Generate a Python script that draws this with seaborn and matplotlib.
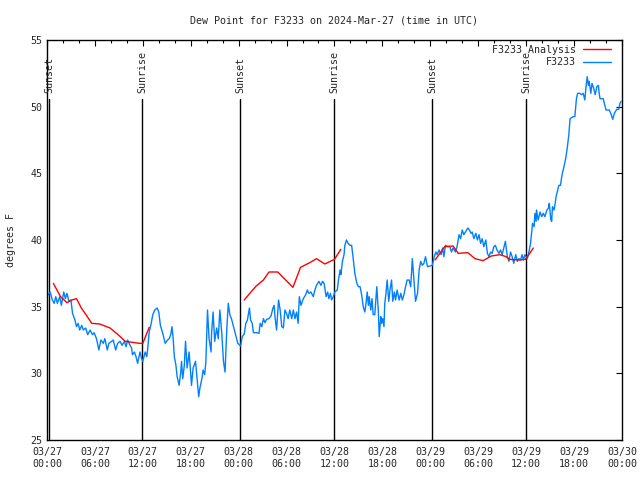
import pandas as pd
import numpy as np
import seaborn as sns
import matplotlib
matplotlib.use('Agg')
import matplotlib.pyplot as plt
import matplotlib.dates as mdates

start = pd.Timestamp('2024-03-27 00:00')

# F3233 observations: hours after 03/27 00:00 UTC, dew point (F)
obs_hours = [0.16, 0.4, 0.67, 0.9, 1.1, 1.3, 1.6, 1.8, 2.1, 2.3, 2.5, 2.75, 3.0, 3.2, 3.5, 3.7, 3.9, 4.1,
             4.35, 4.55, 4.85, 5.1, 5.4, 5.7, 5.9, 6.2, 6.5, 6.75, 7.05, 7.25, 7.55, 7.75, 8.1, 8.3, 8.6,
             8.85, 9.15, 9.4, 9.7, 9.9, 10.1, 10.4, 10.6, 10.7, 10.95, 11.15, 11.35, 11.65, 11.85, 12.0,
             12.3, 12.5, 12.6, 12.8, 13.0, 13.25, 13.5, 13.8, 14.0, 14.2, 14.5, 14.8, 15.1, 15.3, 15.5,
             15.65, 15.8, 15.95, 16.15, 16.3, 16.55, 16.75, 16.85, 17.0, 17.2, 17.35, 17.55, 17.8, 18.0,
             18.1, 18.3, 18.6, 18.8, 19.0, 19.15, 19.4, 19.55, 19.75, 19.9, 20.1, 20.3, 20.55, 20.6, 20.8,
             21.0, 21.25, 21.45, 21.65, 21.9, 22.1, 22.3, 22.5, 22.7, 22.9, 23.1, 23.4, 23.9, 24.25, 24.45,
             24.7, 24.9, 25.1, 25.35, 25.5, 25.7, 25.85, 26.25, 26.55, 26.7, 26.9, 27.1, 27.3, 27.5, 27.8,
             28.05, 28.3, 28.45, 28.55, 28.75, 29.0, 29.2, 29.4, 29.6, 29.8, 30.0, 30.2, 30.4, 30.65, 30.85,
             31.05, 31.25, 31.45, 31.6, 31.8, 32.1, 32.4, 32.6, 32.8, 33.05, 33.35, 33.55, 33.75, 34.05,
             34.3, 34.5, 34.7, 34.95, 35.15, 35.3, 35.5, 35.65, 35.85, 36.05, 36.35, 36.5, 36.7, 36.8,
             37.0, 37.2, 37.3, 37.5, 37.7, 37.95, 38.15, 38.35, 38.55, 38.8, 39.0, 39.2, 39.4, 39.6, 39.8,
             39.95, 40.1, 40.25, 40.35, 40.55, 40.7, 40.85, 41.05, 41.3, 41.5, 41.6, 41.8, 41.9, 42.05,
             42.2, 42.3, 42.45, 42.6, 42.8, 42.95, 43.15, 43.3, 43.5, 43.65, 43.85, 44.1, 44.3, 44.5, 44.7,
             44.9, 45.1, 45.35, 45.55, 45.75, 45.95, 46.15, 46.4, 46.6, 46.8, 47.0, 47.2, 47.4, 47.65,
             47.95, 48.25, 48.5, 48.7, 48.85, 49.1, 49.35, 49.55, 49.7, 49.9, 50.2, 50.45, 50.65, 50.85,
             51.15, 51.35, 51.6, 51.8, 52.0, 52.2, 52.4, 52.7, 52.9, 53.1, 53.25, 53.45, 53.7, 53.9, 54.1,
             54.3, 54.5, 54.7, 54.95, 55.15, 55.35, 55.55, 55.75, 55.95, 56.15, 56.35, 56.6, 56.8, 57.0,
             57.2, 57.4, 57.65, 57.85, 58.05, 58.25, 58.45, 58.7, 58.9, 59.1, 59.3, 59.5, 59.65, 59.85,
             60.15, 60.4, 60.55, 60.7, 60.8, 61.0, 61.1, 61.25, 61.3, 61.5, 61.75, 61.95, 62.15, 62.35,
             62.6, 62.8, 62.9, 63.1, 63.2, 63.3, 63.5, 63.6, 63.75, 63.9, 64.1, 64.3, 64.5, 64.7, 64.95,
             65.15, 65.35, 65.5, 65.9, 66.1, 66.3, 66.45, 66.7, 66.95, 67.15, 67.35, 67.5, 67.65, 67.8,
             67.9, 68.1, 68.25, 68.45, 68.65, 68.85, 69.05, 69.15, 69.25, 69.65, 69.85, 70.0, 70.4, 70.6,
             70.85, 71.05, 71.35, 71.6, 71.75, 71.9]
obs_vals = [35.9, 36.1, 35.5, 35.25, 35.75, 35.25, 35.75, 35.1, 36.1, 35.6, 36.0, 35.4, 35.5, 34.5, 34.0, 33.5, 33.75, 33.25,
            33.6, 33.25, 33.4, 32.9, 33.25, 32.9, 33.05, 32.6, 31.75, 32.5, 32.25, 32.6, 31.75, 32.25, 32.4, 32.5, 31.75,
            32.25, 32.4, 32.1, 32.4, 32.0, 32.5, 32.1, 31.9, 31.4, 31.6, 31.25, 30.75, 31.6, 31.1, 30.9,
            31.6, 31.25, 31.75, 33.1, 33.6, 34.4, 34.75, 34.9, 34.6, 33.6, 33.0, 32.25, 32.5, 32.6, 32.9,
            33.5, 32.6, 31.25, 30.6, 29.75, 29.1, 30.1, 30.9, 29.6, 30.6, 32.4, 30.4, 31.6, 29.9,
            29.1, 30.4, 30.9, 29.6, 28.25, 28.9, 29.6, 30.25, 29.9, 30.9, 34.75, 32.6, 31.6, 32.9, 34.6,
            32.4, 33.4, 32.6, 34.75, 32.9, 30.9, 30.1, 33.1, 35.25, 34.4, 34.1, 33.4, 32.25, 32.05, 32.75,
            32.95, 33.75, 34.0, 34.9, 34.0, 33.75, 33.05, 33.05, 33.0, 33.75, 33.5, 34.1, 33.8, 34.05, 34.1,
            34.3, 34.9, 35.1, 34.25, 33.25, 35.5, 34.75, 33.5, 33.4, 34.75, 34.5, 34.1, 34.75, 34.1, 34.75,
            34.1, 34.6, 33.75, 35.75, 35.1, 35.6, 35.9, 36.25, 36.0, 36.1, 35.75, 36.25, 36.6, 36.9,
            36.6, 36.9, 36.75, 35.75, 36.1, 35.6, 36.0, 35.5, 35.75, 36.1, 36.25, 37.0, 37.75, 37.4,
            38.4, 38.9, 39.6, 40.0, 39.75, 39.6, 39.6, 38.6, 37.5, 36.75, 36.5, 36.5, 35.9, 35.0, 34.6,
            35.25, 36.1, 35.1, 35.75, 34.75, 35.6, 34.4, 34.4, 36.5, 34.6, 32.75, 34.25, 33.75, 34.1,
            33.5, 35.25, 36.0, 37.0, 35.4, 36.25, 37.0, 35.4, 36.1, 35.5, 36.25, 35.5, 36.0, 35.5, 35.9,
            36.5, 37.0, 37.0, 36.5, 38.6, 37.0, 35.4, 36.0, 37.75, 38.4, 38.1, 38.25, 38.75, 38.0,
            38.05, 38.1, 38.75, 39.1, 38.9, 39.25, 38.9, 39.4, 38.75, 39.6, 39.5, 39.5, 39.1, 39.4,
            39.1, 39.5, 40.4, 40.1, 40.75, 40.4, 40.6, 40.9, 40.75, 40.5, 40.6, 40.1, 40.5, 40.0, 40.4,
            39.75, 40.1, 39.5, 40.0, 39.0, 38.75, 39.1, 39.0, 39.5, 39.6, 39.25, 39.0, 39.25, 38.9,
            39.4, 39.9, 38.75, 38.4, 39.1, 38.75, 38.25, 38.9, 38.4, 38.6, 38.5, 38.9, 38.5, 38.9,
            38.6, 39.25, 39.75, 40.6, 41.25, 41.0, 42.0, 41.4, 42.25, 41.5, 42.1, 41.75, 42.0, 41.75,
            42.25, 42.4, 42.75, 41.5, 41.4, 42.5, 42.25, 42.6, 43.25, 43.6, 44.1, 44.1, 44.9, 45.4, 46.1,
            46.9, 47.9, 49.1, 49.25, 49.25, 50.6, 51.0, 51.0, 50.9, 51.0, 50.5, 51.5, 52.25, 51.6,
            51.9, 51.0, 51.75, 51.4, 50.9, 51.5, 51.6, 51.0, 50.6, 50.6, 50.1, 49.75, 49.75, 49.5,
            49.05, 49.5, 49.8, 49.8, 50.25, 50.4]

# F3233 Analysis: three separate runs
ana_hours_1 = [0.8, 1.7, 2.5, 3.1, 3.7, 4.3, 5.0, 5.6, 6.6, 7.9, 8.9, 9.8, 11.6, 12.0, 12.8]
ana_vals_1 = [36.75, 35.75, 35.3, 35.5, 35.6, 34.9, 34.3, 33.75, 33.7, 33.4, 32.9, 32.4, 32.25, 32.25, 33.45]
ana_hours_2 = [24.7, 25.4, 26.2, 27.1, 27.8, 28.9, 29.8, 30.8, 31.75, 32.9, 33.75, 34.8, 36.0, 36.8]
ana_vals_2 = [35.5, 36.0, 36.55, 37.0, 37.6, 37.6, 37.05, 36.45, 37.95, 38.3, 38.6, 38.2, 38.55, 39.3]
ana_hours_3 = [48.6, 49.2, 49.8, 50.85, 51.5, 52.7, 53.6, 54.6, 55.65, 56.7, 57.5, 57.9, 59.2, 59.9, 60.45, 60.9]
ana_vals_3 = [38.5, 39.0, 39.5, 39.55, 39.0, 39.05, 38.6, 38.45, 38.8, 38.9, 38.75, 38.55, 38.5, 38.55, 39.0, 39.4]

sun_hours = [0.25, 11.9, 24.17, 35.94, 48.2, 59.98]
sun_labels = ['Sunset', 'Sunrise', 'Sunset', 'Sunrise', 'Sunset', 'Sunrise']


def to_time(hours):
    return start + pd.to_timedelta(hours, unit='h')


sns.set_style('white')
plt.rcParams['font.family'] = ['DejaVu Sans Mono']
fs = 7.2

fig = plt.figure(figsize=(6.4, 4.8), dpi=100)
ax = fig.add_axes([0.0734, 0.0833, 0.8984, 0.8334])

# sunrise / sunset markers
for h, lab in zip(sun_hours, sun_labels):
    t = to_time(h)
    ax.plot([t, t], [25, 50.6], color='black', lw=1.0, zorder=1)
    ax.text(t, 51.05, lab, rotation=90, ha='center', va='bottom', fontsize=fs)

red = '#ff0000'
blue = '#0080ff'
for i, (hh, vv) in enumerate([(ana_hours_1, ana_vals_1), (ana_hours_2, ana_vals_2), (ana_hours_3, ana_vals_3)]):
    seg = pd.DataFrame({'time': to_time(hh), 'val': vv})
    sns.lineplot(data=seg, x='time', y='val', color=red, lw=1.0, ax=ax,
                 estimator=None, label='F3233 Analysis' if i == 0 else None, zorder=3)

obs = pd.DataFrame({'time': to_time(obs_hours), 'val': obs_vals})
sns.lineplot(data=obs, x='time', y='val', color=blue, lw=1.0, ax=ax,
             estimator=None, label='F3233', zorder=2)

ax.set_xlim(start, start + pd.Timedelta(hours=72))
ax.set_ylim(25, 55)
ax.set_yticks(range(25, 56, 5))
ax.xaxis.set_major_locator(mdates.HourLocator(byhour=range(0, 24, 6)))
ax.xaxis.set_minor_locator(mdates.HourLocator(byhour=range(0, 24, 2)))
ax.xaxis.set_major_formatter(mdates.DateFormatter('%m/%d\n%H:%M'))
ax.tick_params(which='both', direction='in', top=True, right=True, labelsize=fs, color='black', width=0.8)
ax.tick_params(which='major', length=4)
ax.tick_params(which='minor', length=2.2)
ax.tick_params(axis='x', pad=5)
for s in ax.spines.values():
    s.set_color('black')
    s.set_linewidth(1.0)

ax.set_xlabel('')
ax.set_ylabel('degrees F', fontsize=fs, labelpad=10)
ax.set_title('Dew Point for F3233 on 2024-Mar-27 (time in UTC)', fontsize=fs, pad=12)

leg = ax.legend(loc='upper right', bbox_to_anchor=(1.0, 1.015), frameon=False, markerfirst=False,
                fontsize=fs, handlelength=2.8, borderaxespad=0.7, labelspacing=0.25, handletextpad=0.7)

fig.savefig('out.png', dpi=100)
